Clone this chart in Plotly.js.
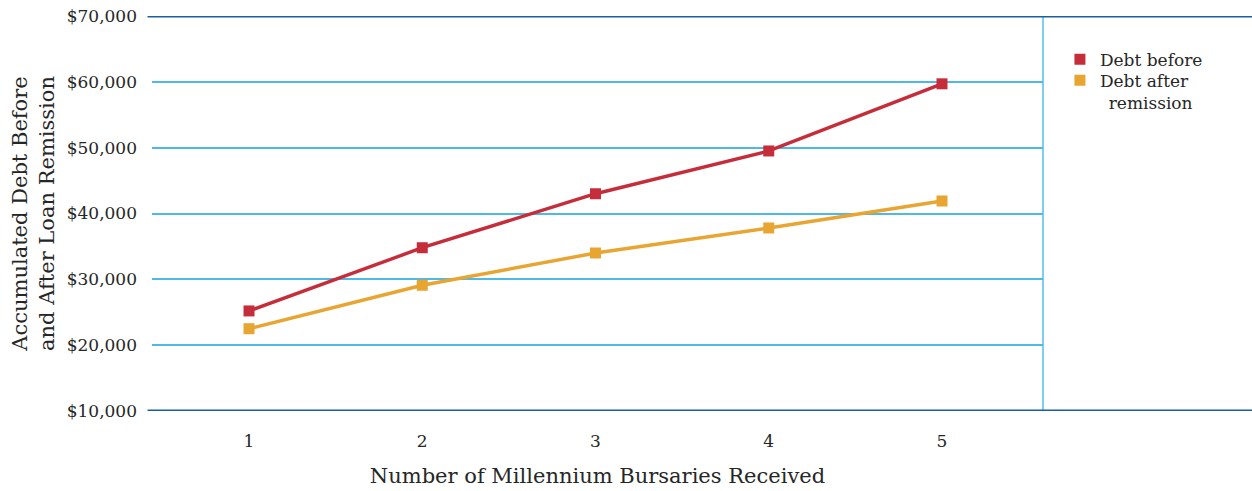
<!DOCTYPE html>
<html>
<head>
<meta charset="utf-8">
<script src="https://cdn.plot.ly/plotly-3.0.1.min.js"></script>
<style>
  html, body { margin: 0; padding: 0; background: #ffffff; }
  #chart { width: 1252px; height: 491px; }
</style>
</head>
<body>
<div id="chart"></div>
<script>
// Bursaries received (x) and accumulated debt before / after remission
const bursaries = [1, 2, 3, 4, 5];
const debtBefore = [25200, 34800, 43000, 49500, 59700];
const debtAfter = [22500, 29100, 34000, 37800, 41900];
const yTicks = [10000, 20000, 30000, 40000, 50000, 60000, 70000];
const yTickText = ['$10,000', '$20,000', '$30,000', '$40,000', '$50,000', '$60,000', '$70,000'];

const RED = '#c62d3b';
const GOLD = '#e8a532';
const GRID = '#4db9e4';
const DARK = '#1b5e9e';
const FONT = 'DejaVu Serif, serif';
const TXT = '#262626';

const traces = [
  {
    x: bursaries, y: debtBefore, mode: 'lines+markers', showlegend: false,
    line: { color: RED, width: 3.4 },
    marker: { symbol: 'square', size: 11, color: RED }
  },
  {
    x: bursaries, y: debtAfter, mode: 'lines+markers', showlegend: false,
    line: { color: GOLD, width: 3.4 },
    marker: { symbol: 'square', size: 11, color: GOLD }
  },
  // legend entries (markers only)
  {
    x: [null], y: [null], mode: 'markers', name: 'Debt before', legend: 'legend',
    marker: { symbol: 'square', size: 11, color: RED }
  },
  {
    x: [null], y: [null], mode: 'markers', name: 'Debt after<br>&nbsp;&#8201;remission', legend: 'legend2',
    marker: { symbol: 'square', size: 11, color: GOLD }
  }
];

const legendStyle = {
  xanchor: 'left', yanchor: 'top', valign: 'top',
  bgcolor: 'rgba(0,0,0,0)',
  font: { family: FONT, size: 17, color: TXT },
  itemwidth: 30
};

const layout = {
  width: 1252, height: 491,
  margin: { l: 152, r: 209, t: 16, b: 80 },
  paper_bgcolor: '#ffffff', plot_bgcolor: '#ffffff',
  font: { family: FONT, color: TXT, size: 16 },
  xaxis: {
    range: [0.44, 5.583],
    tickvals: bursaries,
    ticktext: bursaries.map(String),
    showgrid: false, zeroline: false, showline: false,
    ticks: '', ticklabelstandoff: 18,
    tickfont: { family: FONT, size: 17, color: TXT },
    title: { text: 'Number of Millennium Bursaries Received', standoff: 18,
             font: { family: FONT, size: 21, color: TXT } }
  },
  yaxis: {
    range: [10000, 70000],
    tickvals: yTicks,
    ticktext: yTickText,
    showgrid: true, gridcolor: GRID, gridwidth: 2,
    zeroline: false, showline: false,
    ticks: '', ticklabelstandoff: 14,
    tickfont: { family: FONT, size: 17, color: TXT },
    title: { text: 'Accumulated Debt Before<br>and After Loan Remission', standoff: 6,
             font: { family: FONT, size: 21, color: TXT } }
  },
  legend: Object.assign({ x: 1.019, y: 0.935 }, legendStyle),
  legend2: Object.assign({ x: 1.019, y: 0.882 }, legendStyle),
  shapes: [
    { type: 'line', xref: 'paper', yref: 'y', x0: -0.005, x1: 1.2346, y0: 70000, y1: 70000,
      line: { color: DARK, width: 3 }, layer: 'above' },
    { type: 'line', xref: 'paper', yref: 'y', x0: -0.005, x1: 1.2346, y0: 10000, y1: 10000,
      line: { color: DARK, width: 3 }, layer: 'above' },
    { type: 'line', xref: 'paper', yref: 'paper', x0: 1, x1: 1, y0: 0, y1: 1,
      line: { color: '#7fcdef', width: 2 }, layer: 'below' }
  ]
};

Plotly.newPlot('chart', traces, layout, { displayModeBar: false, staticPlot: true });
</script>
</body>
</html>
